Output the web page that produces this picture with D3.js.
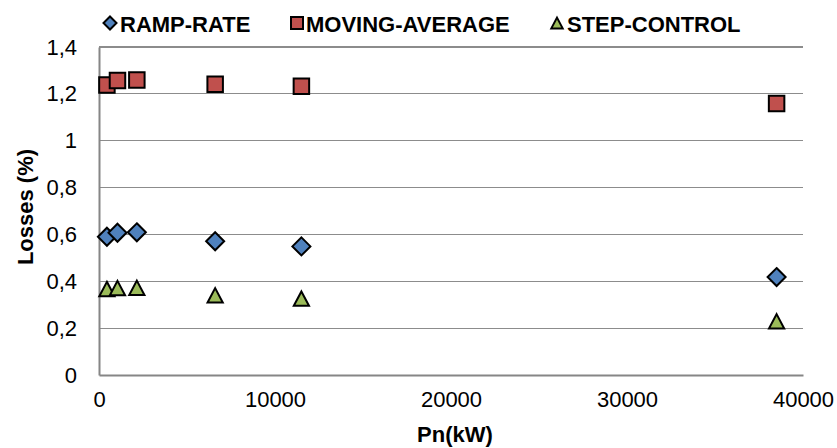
<!DOCTYPE html>
<html>
<head>
<meta charset="utf-8">
<script src="https://cdn.jsdelivr.net/npm/d3@7"></script>
<style>
  html, body { margin: 0; padding: 0; background: #fff; }
  svg { display: block; font-family: "Liberation Sans", Arial, sans-serif; }
</style>
</head>
<body>
<svg id="chart" width="837" height="448"></svg>
<script>
// ---- data ----
const pn = [450, 1050, 2150, 6600, 11500, 38500];
const rampRate = [0.59, 0.607, 0.609, 0.571, 0.549, 0.418];
const movingAverage = [1.238, 1.257, 1.259, 1.241, 1.233, 1.159];
const stepControl = [0.367, 0.371, 0.372, 0.34, 0.326, 0.229];
const seriesNames = ["RAMP-RATE", "MOVING-AVERAGE", "STEP-CONTROL"];
const xTicks = [0, 10000, 20000, 30000, 40000];
const yTicks = [0, 0.2, 0.4, 0.6, 0.8, 1, 1.2, 1.4];

const colors = ["#4F81BD", "#C0504D", "#9BBB59"];
const shapes = ["diamond", "square", "triangle"];
const seriesValues = [rampRate, movingAverage, stepControl];

const svg = d3.select("#chart");
const margin = { left: 99, right: 34, top: 47, bottom: 73 };
const W = 837, H = 448;
const x = d3.scaleLinear().domain([0, 40000]).range([margin.left, W - margin.right]);
const y = d3.scaleLinear().domain([0, 1.4]).range([H - margin.bottom, margin.top]);

function markerPath(shape, s) {
  if (shape === "diamond") {
    const r = s / 2;
    return `M0,${-r}L${r},0L0,${r}L${-r},0Z`;
  }
  if (shape === "square") {
    const r = s / 2;
    return `M${-r},${-r}H${r}V${r}H${-r}Z`;
  }
  const w = s * 0.95, h = s * 0.9;
  return `M0,${-h / 2}L${w / 2},${h / 2}L${-w / 2},${h / 2}Z`;
}

// gridlines
svg.append("g")
  .selectAll("line")
  .data(yTicks.filter(d => d > 0))
  .join("line")
  .attr("x1", x(0)).attr("x2", x(40000))
  .attr("y1", d => y(d)).attr("y2", d => y(d))
  .attr("stroke", "#8c8c8c").attr("stroke-width", 1.2)
  .attr("shape-rendering", "crispEdges");

// axes
const fmt = d => String(d).replace(".", ",");
const yAxis = d3.axisLeft(y).tickValues(yTicks).tickFormat(fmt).tickSize(0).tickPadding(22);
const gy = svg.append("g").attr("transform", `translate(${x(0)},0)`).call(yAxis);
gy.select(".domain").attr("stroke", "#868686").attr("stroke-width", 2);
gy.selectAll("text").attr("font-size", 22).attr("fill", "#000")
  .attr("font-family", "Liberation Sans, Arial, sans-serif");

const xAxis = d3.axisBottom(x).tickValues(xTicks).tickFormat(d => String(d)).tickSize(0).tickPadding(16);
const gx = svg.append("g").attr("transform", `translate(0,${y(0)})`).call(xAxis);
gx.select(".domain").attr("stroke", "#868686").attr("stroke-width", 2);
gx.selectAll("text").attr("font-size", 22).attr("fill", "#000")
  .attr("font-family", "Liberation Sans, Arial, sans-serif");

// axis titles
svg.append("text")
  .attr("x", (x(0) + x(40000)) / 2 + 4).attr("y", 442)
  .attr("text-anchor", "middle").attr("font-size", 22).attr("font-weight", "bold")
  .text("Pn(kW)");
svg.append("text")
  .attr("transform", `translate(33,207) rotate(-90)`)
  .attr("text-anchor", "middle").attr("font-size", 22).attr("font-weight", "bold")
  .text("Losses (%)");

// points
const markerSizes = [18, 15.5, 16];
seriesValues.forEach((vals, i) => {
  svg.append("g")
    .selectAll("path")
    .data(vals.map((v, j) => ({ x: pn[j], y: v })))
    .join("path")
    .attr("transform", d => `translate(${x(d.x)},${y(d.y)})`)
    .attr("d", markerPath(shapes[i], markerSizes[i]))
    .attr("fill", colors[i])
    .attr("stroke", "#000")
    .attr("stroke-width", 2)
    .attr("stroke-linejoin", "miter");
});

// legend
const legendItems = [
  { mx: 110, tx: 120 },
  { mx: 297, tx: 306 },
  { mx: 557, tx: 567 }
];
const lg = svg.append("g");
legendItems.forEach((it, i) => {
  lg.append("path")
    .attr("transform", `translate(${it.mx},23)`)
    .attr("d", markerPath(shapes[i], shapes[i] === "diamond" ? 13 : 12))
    .attr("fill", colors[i]).attr("stroke", "#000").attr("stroke-width", 2);
  lg.append("text")
    .attr("x", it.tx).attr("y", 31.5)
    .attr("font-size", 22).attr("font-weight", "bold")
    .text(seriesNames[i]);
});
</script>
</body>
</html>
